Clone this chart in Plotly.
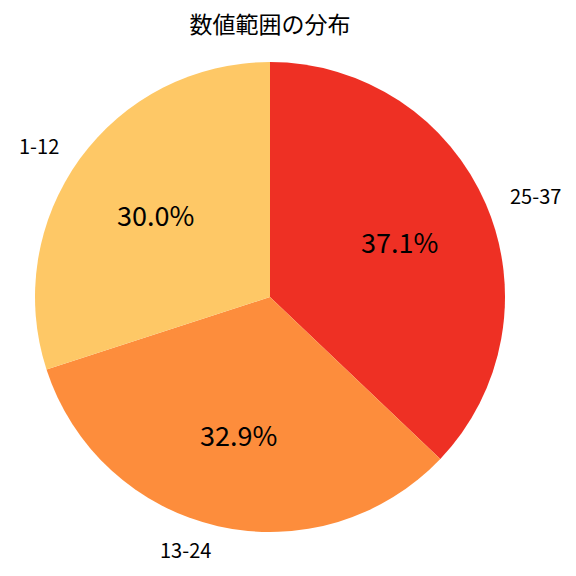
import math
import plotly.graph_objects as go

labels = ["25-37", "13-24", "1-12"]
values = [37.1, 32.9, 30.0]
colors = ["#EE3024", "#FD8D3C", "#FEC866"]

font = "Noto Sans CJK JP"

fig = go.Figure(
    go.Pie(
        labels=labels,
        values=values,
        sort=False,
        direction="clockwise",
        rotation=0,
        marker=dict(colors=colors, line=dict(width=0)),
        textinfo="none",
        hoverinfo="label+percent",
        showlegend=False,
        domain=dict(x=[0, 1], y=[0, 1]),
    )
)

# labels at 1.1r and percentages at 0.6r, like matplotlib's pie
total = sum(values)
cum = 0.0
for lab, v in zip(labels, values):
    theta = math.radians(90 - 360 * (cum + v / 2) / total)
    cum += v
    cx, cy = math.cos(theta), math.sin(theta)
    fig.add_annotation(
        x=0.5 + 0.5 * 1.1 * cx, y=0.5 + 0.5 * 1.1 * cy,
        xref="paper", yref="paper", text=lab, showarrow=False,
        xanchor="left" if cx > 0 else "right", yanchor="middle",
        font=dict(family=font, size=20, color="black"),
    )
    fig.add_annotation(
        x=0.5 + 0.5 * 0.6 * cx, y=0.5 + 0.5 * 0.6 * cy,
        xref="paper", yref="paper", text=f"{100 * v / total:.1f}%", showarrow=False,
        xanchor="center", yanchor="middle",
        font=dict(family=font, size=27, color="black"),
    )

# the page adds an 8px body margin, so margins are shifted by that
fig.update_layout(
    width=576,
    height=576,
    margin=dict(l=27, r=79, t=54, b=52),
    paper_bgcolor="white",
    plot_bgcolor="white",
    title=dict(
        text="数値範囲の分布",
        x=262 / 576, xanchor="center",
        y=1 - 17 / 576, yanchor="middle",
        font=dict(family=font, size=23, color="black"),
    ),
)

fig.write_html("out.html")
